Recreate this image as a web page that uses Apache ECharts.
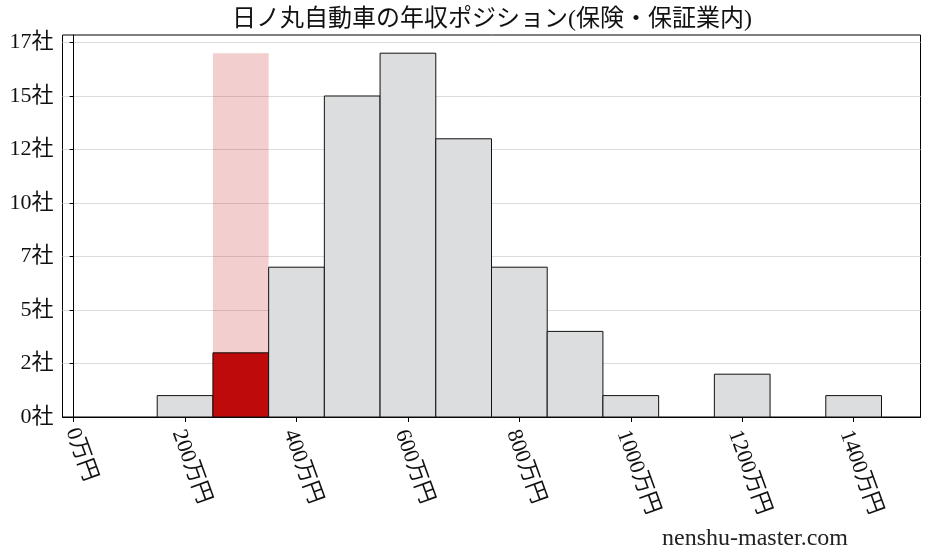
<!DOCTYPE html>
<html>
<head>
<meta charset="utf-8">
<script src="https://cdn.jsdelivr.net/npm/echarts@6/dist/echarts.min.js"></script>
<style>
html,body{margin:0;padding:0;background:#fff;}
#chart{width:928px;height:557px;}
</style>
</head>
<body>
<div id="chart"></div>
<script>
// ---- data ----
const chartTitle = '日ノ丸自動車の年収ポジション(保険・保証業内)';
const watermark = 'nenshu-master.com';
const binCenters = [200, 300, 400, 500, 600, 700, 800, 900, 1000, 1100, 1200, 1300, 1400];
const companyCounts = [1, 3, 7, 15, 17, 13, 7, 4, 1, 0, 2, 0, 1];
const highlightBin = 300;
const binWidth = 100;
const xTickValues = [0, 200, 400, 600, 800, 1000, 1200, 1400];
const yTickValues = [0, 2.5, 5, 7.5, 10, 12.5, 15, 17.5];

const FONT = "'Liberation Serif', 'Noto Sans CJK JP', serif";
const maxCount = Math.max(...companyCounts);

const barData = binCenters.map((c, i) => [c, companyCounts[i]]);
const highlightData = [[highlightBin, maxCount]];

function rectRender(fillFn, strokeOn) {
  return function (params, api) {
    const c = api.value(0), v = api.value(1);
    const p0 = api.coord([c - binWidth / 2, v]);
    const p1 = api.coord([c + binWidth / 2, 0]);
    if (v <= 0) return null;
    return {
      type: 'rect',
      shape: { x: p0[0], y: p0[1], width: p1[0] - p0[0], height: p1[1] - p0[1] },
      style: strokeOn
        ? { fill: fillFn(c), stroke: '#111', lineWidth: 1 }
        : { fill: fillFn(c) }
    };
  };
}

const labelRich = {};
[[1, 4], [3, 15], [4, 17]].forEach(([n, pad]) => {
  labelRich['s' + n] = { fontFamily: FONT, fontSize: 22, color: '#111', padding: [pad, 0, 0, 0] };
});

const chart = echarts.init(document.getElementById('chart'));
chart.setOption({
  animation: false,
  backgroundColor: '#fff',
  title: {
    text: chartTitle,
    left: 487,
    textAlign: 'center',
    top: 3,
    textStyle: { fontFamily: FONT, fontSize: 24, fontWeight: 'normal', color: '#111' }
  },
  graphic: [{
    type: 'text',
    right: 80,
    bottom: 6,
    style: { text: watermark, fontFamily: FONT, fontSize: 24, fill: '#222' }
  }],
  grid: {
    left: 62.5, right: 7.5, top: 35, bottom: 140,
    show: true, borderColor: '#000', borderWidth: 1, backgroundColor: 'transparent'
  },
  xAxis: {
    type: 'value',
    min: -20,
    max: 1520,
    axisLine: { show: true, lineStyle: { color: '#000', width: 1 } },
    axisTick: { show: true, customValues: xTickValues, length: 5, lineStyle: { color: '#000' } },
    axisLabel: {
      customValues: xTickValues,
      rotate: -70,
      margin: 11,
      fontFamily: FONT,
      fontSize: 22,
      color: '#111',
      formatter: v => '{s' + String(v).length + '|' + v + '万円}',
      rich: labelRich
    },
    splitLine: { show: false }
  },
  yAxis: {
    type: 'value',
    min: 0,
    max: 17.85,
    interval: 2.5,
    axisLine: { show: true, lineStyle: { color: '#000', width: 1 } },
    axisTick: { show: true, customValues: yTickValues, length: 4, lineStyle: { color: '#000' } },
    axisLabel: {
      customValues: yTickValues,
      margin: 9,
      fontFamily: FONT,
      fontSize: 22,
      color: '#111',
      formatter: v => Math.floor(v) + '社'
    },
    splitLine: { show: true, lineStyle: { color: '#dcdcdc', width: 1 } }
  },
  series: [
    {
      type: 'custom',
      name: 'highlight',
      renderItem: rectRender(() => 'rgba(192,10,10,0.2)', false),
      data: highlightData,
      z: 1
    },
    {
      type: 'custom',
      name: 'counts',
      renderItem: rectRender(c => c === highlightBin ? '#be0a0a' : '#dcdddf', true),
      data: barData,
      z: 2
    }
  ]
});
</script>
</body>
</html>
